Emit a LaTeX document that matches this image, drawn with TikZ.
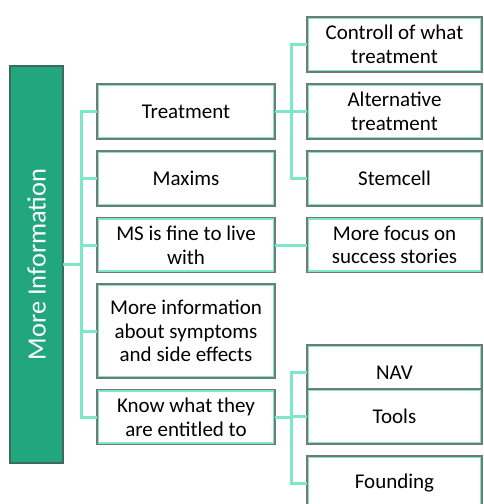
\documentclass[tikz,border=0pt]{standalone}
\usepackage{fontspec}
\setmainfont{Carlito}
\usetikzlibrary{positioning, calc}
\definecolor{cgreen}{HTML}{21A77B}
\definecolor{cdark}{HTML}{3E6A5C}
\definecolor{cmint}{HTML}{80E6C8}
\definecolor{cgrey}{HTML}{6E7B77}
\tikzset{
  every picture/.style={x=0.5pt, y=-0.5pt},
  root/.style={draw=cdark, line width=0.6pt, fill=cgreen, text=white, rotate=90,
    minimum width=198.5pt, minimum height=26.5pt, outer sep=0pt,
    font=\fontsize{13.2}{15}\selectfont},
  box/.style={draw=cgrey, line width=0.6pt, fill=white, align=center, outer sep=0pt,
    minimum width=89pt, minimum height=27.5pt, inner sep=2pt,
    font=\fontsize{10.5}{11.8}\selectfont,
    path picture={\draw[cmint, line width=2.2pt] (path picture bounding box.south west) rectangle (path picture bounding box.north east);}},
  leaf/.style={box, minimum width=87.5pt},
  link/.style={draw=cmint, line width=1.5pt},
}
\begin{document}
\begin{tikzpicture}
  \clip (0,0) rectangle (483,504);
  \node[root] (more) at (36.5,264.5) {More Information};
  % first level
  \node[box] (treat) at (186,111.5) {Treatment};
  \node[box] (maxims) at (186,178.5) {Maxims};
  \node[box] (fine) at (186,245) {MS is fine to live\\with};
  \node[box, minimum height=47pt] (sympt) at (186,331) {More information\\about symptoms\\and side effects};
  \node[box] (entitled) at (186,417) {Know what they\\are entitled to};
  % second level
  \node[leaf] (controll) at (394.5,44.5) {Controll of what\\treatment};
  \node[leaf] (alt) at (394.5,111.5) {Alternative\\treatment};
  \node[leaf] (stem) at (394.5,178.5) {Stemcell};
  \node[leaf] (focus) at (394.5,245) {More focus on\\success stories};
  \node[leaf] (nav) at (394.5,372.5) {NAV};
  \node[leaf] (tools) at (394.5,416.5) {Tools};
  \node[leaf] (founding) at (394.5,483.5) {Founding};
  % connectors
  \foreach \c in {treat, maxims, fine, sympt, entitled}
    \draw[link] (more.south) -- ++(18,0) |- (\c.west);
  \foreach \c in {controll, alt, stem}
    \draw[link] (treat.east) -- ++(16,0) |- (\c.west);
  \draw[link] (fine.east) -- (focus.west);
  \foreach \c in {nav, tools, founding}
    \draw[link] (entitled.east) -- ++(16,0) |- (\c.west);
\end{tikzpicture}
\end{document}
